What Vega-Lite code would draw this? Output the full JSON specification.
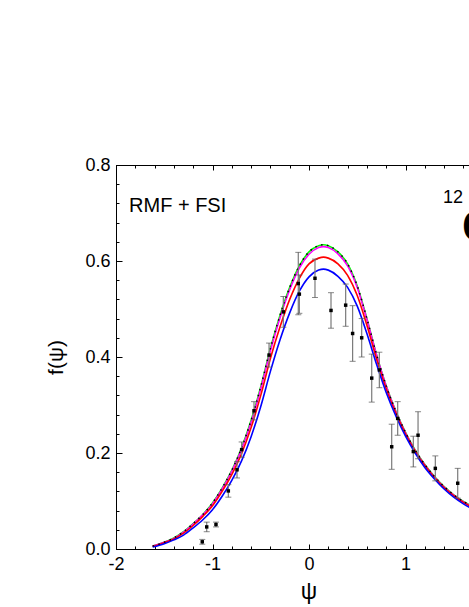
{
  "$schema": "https://vega.github.io/schema/vega-lite/v6.json",
  "width": 482.5,
  "height": 384,
  "autosize": {"type": "none"},
  "padding": {"left": 116, "top": 165, "right": 0, "bottom": 58},
  "background": "white",
  "config": {
    "view": {"stroke": "black", "strokeWidth": 1},
    "axis": {"grid": false, "labelFont": "Liberation Sans", "titleFont": "Liberation Sans", "labelColor": "black", "titleColor": "black", "tickColor": "black", "domainColor": "black", "labelFontSize": 18, "titleFontWeight": "normal", "tickWidth": 1, "domainWidth": 1}
  },
  "datasets": {
    "curves": [
      {"psi": -1.62, "f": 0.006, "model": "green"}, {"psi": -1.5, "f": 0.014, "model": "green"}, {"psi": -1.4, "f": 0.023, "model": "green"}, {"psi": -1.3, "f": 0.036, "model": "green"}, {"psi": -1.2, "f": 0.053, "model": "green"}, {"psi": -1.1, "f": 0.072, "model": "green"}, {"psi": -1.0, "f": 0.096, "model": "green"}, {"psi": -0.9, "f": 0.127, "model": "green"}, {"psi": -0.8, "f": 0.164, "model": "green"}, {"psi": -0.7, "f": 0.21, "model": "green"}, {"psi": -0.6, "f": 0.268, "model": "green"}, {"psi": -0.5, "f": 0.338, "model": "green"}, {"psi": -0.4, "f": 0.418, "model": "green"}, {"psi": -0.3, "f": 0.487, "model": "green"}, {"psi": -0.2, "f": 0.545, "model": "green"}, {"psi": -0.1, "f": 0.59, "model": "green"}, {"psi": 0.0, "f": 0.619, "model": "green"}, {"psi": 0.1, "f": 0.632, "model": "green"}, {"psi": 0.15, "f": 0.634, "model": "green"}, {"psi": 0.2, "f": 0.632, "model": "green"}, {"psi": 0.3, "f": 0.619, "model": "green"}, {"psi": 0.4, "f": 0.594, "model": "green"}, {"psi": 0.5, "f": 0.548, "model": "green"}, {"psi": 0.6, "f": 0.48, "model": "green"}, {"psi": 0.7, "f": 0.405, "model": "green"}, {"psi": 0.8, "f": 0.34, "model": "green"}, {"psi": 0.9, "f": 0.287, "model": "green"}, {"psi": 1.0, "f": 0.243, "model": "green"}, {"psi": 1.1, "f": 0.206, "model": "green"}, {"psi": 1.2, "f": 0.176, "model": "green"}, {"psi": 1.3, "f": 0.151, "model": "green"}, {"psi": 1.4, "f": 0.13, "model": "green"}, {"psi": 1.5, "f": 0.113, "model": "green"}, {"psi": 1.6, "f": 0.099, "model": "green"}, {"psi": 1.7, "f": 0.088, "model": "green"}, {"psi": 1.8, "f": 0.078, "model": "green"}, {"psi": 1.9, "f": 0.07, "model": "green"}, {"psi": 2.0, "f": 0.063, "model": "green"},
      {"psi": -1.62, "f": 0.006, "model": "magenta"}, {"psi": -1.5, "f": 0.014, "model": "magenta"}, {"psi": -1.4, "f": 0.022, "model": "magenta"}, {"psi": -1.3, "f": 0.035, "model": "magenta"}, {"psi": -1.2, "f": 0.052, "model": "magenta"}, {"psi": -1.1, "f": 0.071, "model": "magenta"}, {"psi": -1.0, "f": 0.094, "model": "magenta"}, {"psi": -0.9, "f": 0.125, "model": "magenta"}, {"psi": -0.8, "f": 0.162, "model": "magenta"}, {"psi": -0.7, "f": 0.207, "model": "magenta"}, {"psi": -0.6, "f": 0.264, "model": "magenta"}, {"psi": -0.5, "f": 0.334, "model": "magenta"}, {"psi": -0.4, "f": 0.413, "model": "magenta"}, {"psi": -0.3, "f": 0.482, "model": "magenta"}, {"psi": -0.2, "f": 0.54, "model": "magenta"}, {"psi": -0.1, "f": 0.585, "model": "magenta"}, {"psi": 0.0, "f": 0.614, "model": "magenta"}, {"psi": 0.1, "f": 0.628, "model": "magenta"}, {"psi": 0.15, "f": 0.63, "model": "magenta"}, {"psi": 0.2, "f": 0.628, "model": "magenta"}, {"psi": 0.3, "f": 0.615, "model": "magenta"}, {"psi": 0.4, "f": 0.59, "model": "magenta"}, {"psi": 0.5, "f": 0.545, "model": "magenta"}, {"psi": 0.6, "f": 0.478, "model": "magenta"}, {"psi": 0.7, "f": 0.404, "model": "magenta"}, {"psi": 0.8, "f": 0.339, "model": "magenta"}, {"psi": 0.9, "f": 0.286, "model": "magenta"}, {"psi": 1.0, "f": 0.242, "model": "magenta"}, {"psi": 1.1, "f": 0.205, "model": "magenta"}, {"psi": 1.2, "f": 0.175, "model": "magenta"}, {"psi": 1.3, "f": 0.15, "model": "magenta"}, {"psi": 1.4, "f": 0.129, "model": "magenta"}, {"psi": 1.5, "f": 0.112, "model": "magenta"}, {"psi": 1.6, "f": 0.098, "model": "magenta"}, {"psi": 1.7, "f": 0.087, "model": "magenta"}, {"psi": 1.8, "f": 0.077, "model": "magenta"}, {"psi": 1.9, "f": 0.069, "model": "magenta"}, {"psi": 2.0, "f": 0.062, "model": "magenta"},
      {"psi": -1.62, "f": 0.005, "model": "red"}, {"psi": -1.5, "f": 0.013, "model": "red"}, {"psi": -1.4, "f": 0.021, "model": "red"}, {"psi": -1.3, "f": 0.033, "model": "red"}, {"psi": -1.2, "f": 0.049, "model": "red"}, {"psi": -1.1, "f": 0.068, "model": "red"}, {"psi": -1.0, "f": 0.09, "model": "red"}, {"psi": -0.9, "f": 0.12, "model": "red"}, {"psi": -0.8, "f": 0.155, "model": "red"}, {"psi": -0.7, "f": 0.198, "model": "red"}, {"psi": -0.6, "f": 0.253, "model": "red"}, {"psi": -0.5, "f": 0.32, "model": "red"}, {"psi": -0.4, "f": 0.397, "model": "red"}, {"psi": -0.3, "f": 0.463, "model": "red"}, {"psi": -0.2, "f": 0.52, "model": "red"}, {"psi": -0.1, "f": 0.564, "model": "red"}, {"psi": 0.0, "f": 0.594, "model": "red"}, {"psi": 0.1, "f": 0.606, "model": "red"}, {"psi": 0.15, "f": 0.608, "model": "red"}, {"psi": 0.2, "f": 0.606, "model": "red"}, {"psi": 0.3, "f": 0.594, "model": "red"}, {"psi": 0.4, "f": 0.57, "model": "red"}, {"psi": 0.5, "f": 0.528, "model": "red"}, {"psi": 0.6, "f": 0.466, "model": "red"}, {"psi": 0.7, "f": 0.396, "model": "red"}, {"psi": 0.8, "f": 0.334, "model": "red"}, {"psi": 0.9, "f": 0.283, "model": "red"}, {"psi": 1.0, "f": 0.24, "model": "red"}, {"psi": 1.1, "f": 0.204, "model": "red"}, {"psi": 1.2, "f": 0.174, "model": "red"}, {"psi": 1.3, "f": 0.149, "model": "red"}, {"psi": 1.4, "f": 0.128, "model": "red"}, {"psi": 1.5, "f": 0.111, "model": "red"}, {"psi": 1.6, "f": 0.097, "model": "red"}, {"psi": 1.7, "f": 0.086, "model": "red"}, {"psi": 1.8, "f": 0.076, "model": "red"}, {"psi": 1.9, "f": 0.068, "model": "red"}, {"psi": 2.0, "f": 0.061, "model": "red"},
      {"psi": -1.62, "f": 0.004, "model": "blue"}, {"psi": -1.5, "f": 0.011, "model": "blue"}, {"psi": -1.4, "f": 0.019, "model": "blue"}, {"psi": -1.3, "f": 0.029, "model": "blue"}, {"psi": -1.2, "f": 0.044, "model": "blue"}, {"psi": -1.1, "f": 0.061, "model": "blue"}, {"psi": -1.0, "f": 0.082, "model": "blue"}, {"psi": -0.9, "f": 0.11, "model": "blue"}, {"psi": -0.8, "f": 0.143, "model": "blue"}, {"psi": -0.7, "f": 0.183, "model": "blue"}, {"psi": -0.6, "f": 0.234, "model": "blue"}, {"psi": -0.5, "f": 0.297, "model": "blue"}, {"psi": -0.4, "f": 0.37, "model": "blue"}, {"psi": -0.3, "f": 0.436, "model": "blue"}, {"psi": -0.2, "f": 0.492, "model": "blue"}, {"psi": -0.1, "f": 0.537, "model": "blue"}, {"psi": 0.0, "f": 0.567, "model": "blue"}, {"psi": 0.1, "f": 0.581, "model": "blue"}, {"psi": 0.15, "f": 0.583, "model": "blue"}, {"psi": 0.2, "f": 0.581, "model": "blue"}, {"psi": 0.3, "f": 0.568, "model": "blue"}, {"psi": 0.4, "f": 0.545, "model": "blue"}, {"psi": 0.5, "f": 0.506, "model": "blue"}, {"psi": 0.6, "f": 0.449, "model": "blue"}, {"psi": 0.7, "f": 0.385, "model": "blue"}, {"psi": 0.8, "f": 0.326, "model": "blue"}, {"psi": 0.9, "f": 0.277, "model": "blue"}, {"psi": 1.0, "f": 0.235, "model": "blue"}, {"psi": 1.1, "f": 0.2, "model": "blue"}, {"psi": 1.2, "f": 0.17, "model": "blue"}, {"psi": 1.3, "f": 0.146, "model": "blue"}, {"psi": 1.4, "f": 0.125, "model": "blue"}, {"psi": 1.5, "f": 0.108, "model": "blue"}, {"psi": 1.6, "f": 0.094, "model": "blue"}, {"psi": 1.7, "f": 0.083, "model": "blue"}, {"psi": 1.8, "f": 0.074, "model": "blue"}, {"psi": 1.9, "f": 0.066, "model": "blue"}, {"psi": 2.0, "f": 0.059, "model": "blue"}
    ],
    "points": [
      {"psi": -1.106, "f": 0.015, "lo": 0.01, "hi": 0.02},
      {"psi": -1.06, "f": 0.046, "lo": 0.036, "hi": 0.056},
      {"psi": -0.964, "f": 0.051, "lo": 0.046, "hi": 0.056},
      {"psi": -0.836, "f": 0.121, "lo": 0.108, "hi": 0.134},
      {"psi": -0.746, "f": 0.165, "lo": 0.148, "hi": 0.182},
      {"psi": -0.698, "f": 0.207, "lo": 0.191, "hi": 0.223},
      {"psi": -0.57, "f": 0.288, "lo": 0.269, "hi": 0.307},
      {"psi": -0.414, "f": 0.404, "lo": 0.379, "hi": 0.429},
      {"psi": -0.266, "f": 0.494, "lo": 0.462, "hi": 0.526},
      {"psi": -0.111, "f": 0.553, "lo": 0.488, "hi": 0.618},
      {"psi": -0.1, "f": 0.531, "lo": 0.491, "hi": 0.571},
      {"psi": 0.062, "f": 0.564, "lo": 0.524, "hi": 0.604},
      {"psi": 0.228, "f": 0.497, "lo": 0.46, "hi": 0.534},
      {"psi": 0.38, "f": 0.508, "lo": 0.464, "hi": 0.552},
      {"psi": 0.452, "f": 0.449, "lo": 0.391, "hi": 0.507},
      {"psi": 0.546, "f": 0.44, "lo": 0.4, "hi": 0.48},
      {"psi": 0.65, "f": 0.356, "lo": 0.306, "hi": 0.406},
      {"psi": 0.729, "f": 0.373, "lo": 0.336, "hi": 0.41},
      {"psi": 0.857, "f": 0.213, "lo": 0.166, "hi": 0.26},
      {"psi": 0.919, "f": 0.272, "lo": 0.237, "hi": 0.307},
      {"psi": 1.081, "f": 0.203, "lo": 0.171, "hi": 0.235},
      {"psi": 1.13, "f": 0.237, "lo": 0.188, "hi": 0.286},
      {"psi": 1.309, "f": 0.168, "lo": 0.142, "hi": 0.194},
      {"psi": 1.541, "f": 0.137, "lo": 0.106, "hi": 0.168}
    ],
    "labels": [
      {"psi": -1.865, "f": 0.703, "label": "RMF + FSI", "kind": "main"},
      {"psi": 1.389, "f": 0.721, "label": "12", "kind": "sup"},
      {"psi": 1.585, "f": 0.64, "label": "C", "kind": "big"}
    ]
  },
  "resolve": {"axis": {"x": "independent", "y": "independent"}},
  "layer": [
    {
      "data": {"name": "curves"},
      "mark": {"type": "line", "strokeWidth": 1.6, "interpolate": "monotone"},
      "encoding": {
        "x": {"field": "psi", "type": "quantitative", "scale": {"domain": [-2, 3], "nice": false, "zero": false},
          "axis": {"orient": "bottom", "values": [-2, -1, 0, 1], "tickSize": -5, "labelPadding": 11, "labelFlush": false, "labelOverlap": false, "labelExpr": "'' + datum.value", "title": "ψ", "titleFontSize": 23, "titlePadding": 7, "titleX": 192.5}},
        "y": {"field": "f", "type": "quantitative", "scale": {"domain": [0, 0.8], "nice": false, "zero": false},
          "axis": {"orient": "left", "values": [0, 0.2, 0.4, 0.6, 0.8], "format": ".1f", "tickSize": -6, "labelPadding": 12, "labelFlush": false, "labelOverlap": false, "title": "f(ψ)", "titleFontSize": 21, "titlePadding": 18}},
        "color": {"field": "model", "type": "nominal", "scale": {"domain": ["green", "magenta", "red", "blue"], "range": ["#00ff00", "#ff00ff", "#ff0000", "#0000ff"]}, "legend": null}
      }
    },
    {
      "data": {"name": "curves"},
      "transform": [{"filter": "datum.model == 'green'"}],
      "mark": {"type": "line", "strokeWidth": 1.5, "interpolate": "monotone", "color": "black", "strokeDash": [1.5, 4.5]},
      "encoding": {
        "x": {"field": "psi", "type": "quantitative", "scale": {"domain": [-2, 3], "nice": false, "zero": false},
          "axis": {"orient": "bottom", "values": [-2, -1.8, -1.6, -1.4, -1.2, -1, -0.8, -0.6, -0.4, -0.2, 0, 0.2, 0.4, 0.6, 0.8, 1, 1.2, 1.4, 1.6, 1.8, 2, 2.2, 2.4, 2.6, 2.8, 3], "tickSize": -3, "labels": false, "domain": false, "title": null}},
        "y": {"field": "f", "type": "quantitative", "scale": {"domain": [0, 0.8], "nice": false, "zero": false},
          "axis": {"orient": "left", "values": [0, 0.04, 0.08, 0.12, 0.16, 0.2, 0.24, 0.28, 0.32, 0.36, 0.4, 0.44, 0.48, 0.52, 0.56, 0.6, 0.64, 0.68, 0.72, 0.76, 0.8], "tickSize": -3, "labels": false, "domain": false, "title": null}}
      }
    },
    {
      "data": {"name": "points"},
      "mark": {"type": "rule", "color": "#7a7a7a", "strokeWidth": 1.2},
      "encoding": {
        "x": {"field": "psi", "type": "quantitative", "scale": {"domain": [-2, 3], "nice": false, "zero": false},
          "axis": {"orient": "top", "values": [-2, -1, 0, 1, 2, 3], "tickSize": -5, "labels": false, "domain": false, "title": null}},
        "y": {"field": "lo", "type": "quantitative", "scale": {"domain": [0, 0.8], "nice": false, "zero": false}, "axis": null},
        "y2": {"field": "hi"}
      }
    },
    {
      "data": {"name": "points"},
      "mark": {"type": "tick", "orient": "horizontal", "color": "#555555", "size": 6, "thickness": 1},
      "encoding": {
        "x": {"field": "psi", "type": "quantitative", "scale": {"domain": [-2, 3], "nice": false, "zero": false},
          "axis": {"orient": "top", "values": [-2, -1.8, -1.6, -1.4, -1.2, -1, -0.8, -0.6, -0.4, -0.2, 0, 0.2, 0.4, 0.6, 0.8, 1, 1.2, 1.4, 1.6, 1.8, 2, 2.2, 2.4, 2.6, 2.8, 3], "tickSize": -3, "labels": false, "domain": false, "title": null}},
        "y": {"field": "lo", "type": "quantitative", "scale": {"domain": [0, 0.8], "nice": false, "zero": false}, "axis": null}
      }
    },
    {
      "data": {"name": "points"},
      "mark": {"type": "tick", "orient": "horizontal", "color": "#555555", "size": 6, "thickness": 1},
      "encoding": {
        "x": {"field": "psi", "type": "quantitative", "scale": {"domain": [-2, 3], "nice": false, "zero": false}, "axis": null},
        "y": {"field": "hi", "type": "quantitative", "scale": {"domain": [0, 0.8], "nice": false, "zero": false}, "axis": null}
      }
    },
    {
      "data": {"name": "points"},
      "mark": {"type": "square", "color": "black", "filled": true, "size": 12, "opacity": 1},
      "encoding": {
        "x": {"field": "psi", "type": "quantitative", "scale": {"domain": [-2, 3], "nice": false, "zero": false}, "axis": null},
        "y": {"field": "f", "type": "quantitative", "scale": {"domain": [0, 0.8], "nice": false, "zero": false}, "axis": null}
      }
    },
    {
      "data": {"name": "labels"},
      "transform": [{"filter": "datum.kind == 'main'"}],
      "mark": {"type": "text", "align": "left", "baseline": "alphabetic", "font": "Liberation Sans", "fontSize": 20, "color": "black"},
      "encoding": {
        "x": {"field": "psi", "type": "quantitative", "scale": {"domain": [-2, 3], "nice": false, "zero": false}, "axis": null},
        "y": {"field": "f", "type": "quantitative", "scale": {"domain": [0, 0.8], "nice": false, "zero": false}, "axis": null},
        "text": {"field": "label"}
      }
    },
    {
      "data": {"name": "labels"},
      "transform": [{"filter": "datum.kind == 'sup'"}],
      "mark": {"type": "text", "align": "left", "baseline": "alphabetic", "font": "Liberation Sans", "fontSize": 18, "color": "black"},
      "encoding": {
        "x": {"field": "psi", "type": "quantitative", "scale": {"domain": [-2, 3], "nice": false, "zero": false}, "axis": null},
        "y": {"field": "f", "type": "quantitative", "scale": {"domain": [0, 0.8], "nice": false, "zero": false}, "axis": null},
        "text": {"field": "label"}
      }
    },
    {
      "data": {"name": "labels"},
      "transform": [{"filter": "datum.kind == 'big'"}],
      "mark": {"type": "text", "align": "left", "baseline": "alphabetic", "font": "Liberation Sans", "fontSize": 46, "fontWeight": "bold", "color": "black"},
      "encoding": {
        "x": {"field": "psi", "type": "quantitative", "scale": {"domain": [-2, 3], "nice": false, "zero": false}, "axis": null},
        "y": {"field": "f", "type": "quantitative", "scale": {"domain": [0, 0.8], "nice": false, "zero": false}, "axis": null},
        "text": {"field": "label"}
      }
    }
  ]
}
